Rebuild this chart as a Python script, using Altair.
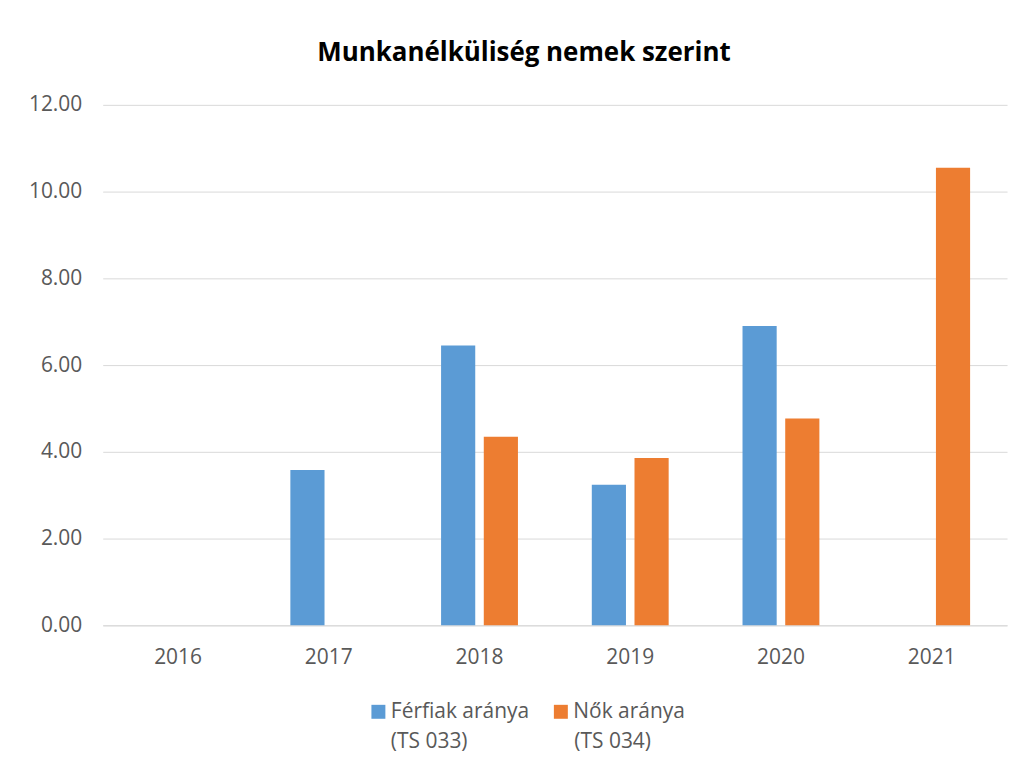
import altair as alt
import pandas as pd

years = ["2016", "2017", "2018", "2019", "2020", "2021"]
ferfiak = [None, 3.58, 6.45, 3.24, 6.90, None]
nok = [None, None, 4.35, 3.86, 4.77, 10.55]
series = ["Férfiak aránya", "Nők aránya"]
codes = ["(TS 033)", "(TS 034)"]
colors = ["#5B9BD5", "#ED7D31"]

rows = []
for i, y in enumerate(years):
    rows.append({"year": y, "series": series[0], "code": codes[0], "value": ferfiak[i]})
    rows.append({"year": y, "series": series[1], "code": codes[1], "value": nok[i]})
df = pd.DataFrame(rows)

font = "Open Sans"

legend_common = dict(title=None, orient="none", legendX=266, direction="horizontal",
                     columns=2, symbolType="square", symbolSize=196,
                     symbolStrokeWidth=0, labelFontSize=21, labelColor="#595959", labelFont=font,
                     labelLimit=400, labelOffset=2, labelBaseline="middle")

chart = alt.Chart(df).mark_bar().encode(
    x=alt.X("year:N", scale=alt.Scale(domain=years, paddingInner=0.49, paddingOuter=0.245),
            axis=alt.Axis(title=None, labelAngle=0, ticks=False, domain=True, domainColor="#D9D9D9",
                          labelFontSize=21, labelColor="#595959", labelPadding=21, labelFont=font)),
    xOffset=alt.XOffset("series:N", scale=alt.Scale(domain=series, paddingInner=0.2)),
    y=alt.Y("value:Q", scale=alt.Scale(domain=[0, 12]),
            axis=alt.Axis(title=None, format=".2f", values=[0, 2, 4, 6, 8, 10, 12], ticks=False, domain=False,
                          gridColor="#D9D9D9", labelFontSize=21, labelColor="#595959", labelPadding=21,
                          labelFont=font)),
    color=alt.Color("series:N", scale=alt.Scale(domain=series, range=colors),
                    legend=alt.Legend(legendY=598, columnPadding=21, **legend_common)),
    opacity=alt.Opacity("code:O", scale=alt.Scale(domain=codes, range=[1, 1]),
                        legend=alt.Legend(legendY=628, columnPadding=84, symbolFillColor="#ffffff",
                                          symbolStrokeColor="#ffffff", **legend_common)),
).properties(
    width=907, height=522,
    title=alt.Title("Munkanélküliség nemek szerint", fontSize=26, fontWeight="bold", font=font,
                    color="#000000", anchor="middle", dx=-31, offset=28),
    autosize=alt.AutoSizeParams(type="none"),
    padding={"left": 95, "top": 96, "right": 10, "bottom": 150},
).configure_view(stroke=None)

chart.save("out.html", embed_options={"renderer": "svg", "actions": False})
